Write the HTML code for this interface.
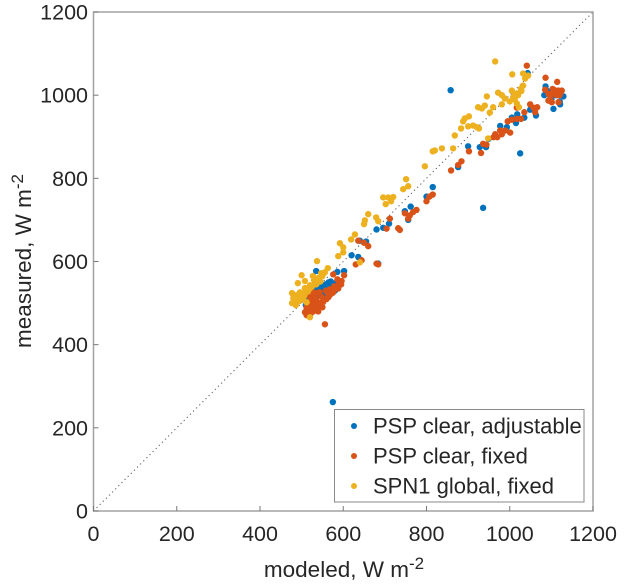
<!DOCTYPE html>
<html lang="en">
<head>
<meta charset="utf-8">
<title>Measured vs modeled irradiance</title>
<style>
html,body{margin:0;padding:0;background:#fff;width:624px;height:587px;overflow:hidden}
svg{display:block}
text{font-family:"Liberation Sans",sans-serif;fill:#262626}
</style>
</head>
<body>
<svg id="chart" width="624" height="587" viewBox="0 0 624 587" xmlns="http://www.w3.org/2000/svg"></svg>
<script>
const xTicks = [0, 200, 400, 600, 800, 1000, 1200];
const yTicks = [0, 200, 400, 600, 800, 1000, 1200];
const seriesNames = ["PSP clear, adjustable", "PSP clear, fixed", "SPN1 global, fixed"];
const seriesColors = ["#0072bd", "#d95319", "#edb120"];

const blueX = [575,858,936,1025,900,1043,1086,1083,1129,1105,1121,1063,1049,1035,1018,1005,1015,977,993,949,1095,1110,1100,1090,1120,815,876,800,762,748,756,696,710,943,928,680,684,640,636,655,620,535,586,602,576,560,552,572,512,525,528,540,520,532,566,586,515,545,555,510,530,518,580,590,545,550,558,565,570,535,525,540,548];
const blueY = [262,1012,729,860,877,1053,1021,1000,997,967,978,951,965,946,954,946,933,926,923,895,987,1000,990,1010,985,779,827,756,732,721,700,681,691,875,875,677,595,650,611,648,615,577,575,577,547,539,535,539,511,530,520,500,490,540,540,553,480,525,515,495,505,500,530,545,535,542,545,550,552,515,510,530,522];

const redX = [1041,1086,1114,1085,1093,1105,1117,1125,1121,1113,1093,1101,1117,1113,1108,1098,1120,1103,1049,1057,1066,1061,1035,1027,1017,1005,995,1017,977,989,1001,965,981,970,961,931,936,944,902,859,884,876,815,807,800,776,768,748,760,756,712,704,732,736,684,680,660,644,630,636,650,556,576,602,596,586,528,543,512,512,520,532,544,552,564,576,588,516,524,520,535,540,550,560,570,580,508,515,522,528,536,545,555,565,575,585,595,515,525,535,548,558,568,578,590,512,520,530,540];
const redY = [1071,1042,1032,1013,1003,1007,1011,1011,1003,1000,987,983,983,1007,1012,996,1000,1015,978,970,971,959,959,943,943,941,937,970,915,915,910,906,906,899,899,861,883,881,865,819,841,832,761,756,745,724,719,716,711,703,703,679,680,676,593,595,637,603,593,650,645,449,569,567,553,557,526,526,471,483,483,491,495,503,519,527,535,495,505,515,510,480,490,510,522,540,478,500,475,480,488,500,508,515,525,535,545,485,495,500,515,530,533,540,550,490,505,520,525];

const yellowX = [965,1006,1032,1044,1037,1032,1027,1005,1017,1008,972,981,988,945,1017,1022,981,924,933,940,960,952,902,892,888,912,900,921,926,883,948,868,837,864,815,820,796,751,756,744,696,708,720,715,702,660,652,650,679,684,628,619,592,600,600,588,537,500,491,508,527,563,556,547,540,532,520,508,496,477,488,480,477,486,507,520,503,498,512,520,640,1000,1012,525,515,495,485,505,530,1020,1012,1028,490,500,510,520,535,545,482,492,502,515,550];
const yellowY = [1081,1050,1052,1047,1040,1023,1016,1011,1004,995,1006,1000,992,997,980,971,978,971,968,975,971,958,949,944,937,927,925,923,920,920,896,903,872,872,865,867,829,798,781,774,754,754,755,745,738,714,699,690,706,697,665,653,644,634,622,613,601,567,548,553,565,584,574,572,560,550,543,536,526,524,519,512,500,495,520,535,510,522,502,466,598,985,1000,540,530,505,500,515,555,1000,990,1010,508,518,528,538,545,552,515,510,520,528,565];

const plotLeft = 93.5, plotRight = 593, plotTop = 12, plotBottom = 511;
const axisMax = 1200;
function sx(v){ return plotLeft + v / axisMax * (plotRight - plotLeft); }
function sy(v){ return plotBottom - v / axisMax * (plotBottom - plotTop); }

const svg = document.getElementById('chart');
const NS = 'http://www.w3.org/2000/svg';
function mk(tag, attrs, parent){
  const el = document.createElementNS(NS, tag);
  for (const k in attrs) el.setAttribute(k, attrs[k]);
  (parent || svg).appendChild(el);
  return el;
}

const refLine = mk('line', {x1:sx(0), y1:sy(0), x2:sx(axisMax), y2:sy(axisMax), stroke:'#666', 'stroke-width':1.1, 'stroke-dasharray':'1.2 3.2'});



function drawSeries(xs, ys, color, name){
  const g = mk('g', {fill:color});
  
  
  xs.forEach(function(x, i){
    const c = mk('circle', {cx:sx(x), cy:sy(ys[i]), r:3.2}, g);
    
    
  });
}
drawSeries(blueX, blueY, seriesColors[0], 'series-psp-clear-adjustable');
drawSeries(redX, redY, seriesColors[1], 'series-psp-clear-fixed');
drawSeries(yellowX, yellowY, seriesColors[2], 'series-spn1-global-fixed');

const frame = mk('rect', {x:plotLeft, y:plotTop, width:plotRight-plotLeft, height:plotBottom-plotTop, fill:'none', stroke:'#a2a2a2', 'stroke-width':1.5});



xTicks.forEach(function(t){
  const up = mk('line', {x1:sx(t), x2:sx(t), y1:plotBottom, y2:plotBottom-5, stroke:'#777', 'stroke-width':1});
  
  
  const lab = mk('text', {x:sx(t), y:541, 'text-anchor':'middle', 'font-size':21.5});
  
  
  lab.textContent = t;
});
yTicks.forEach(function(t){
  const tk = mk('line', {x1:plotLeft, x2:plotLeft+5, y1:sy(t), y2:sy(t), stroke:'#777', 'stroke-width':1});
  
  
  const lab = mk('text', {x:88, y:sy(t)+7.5, 'text-anchor':'end', 'font-size':21.5});
  
  
  lab.textContent = t;
});

const xTitle = mk('text', {x:344, y:577, 'text-anchor':'middle', 'font-size':22.5});


xTitle.innerHTML = 'modeled, W m<tspan dy="-8" font-size="17">-2</tspan>';

const yTitle = mk('text', {transform:'translate(31,261) rotate(-90)', 'text-anchor':'middle', 'font-size':22.5});


yTitle.innerHTML = 'measured, W m<tspan dy="-8" font-size="17">-2</tspan>';

const legend = mk('g', {});


const legendBox = mk('rect', {x:334.5, y:409.5, width:249.5, height:92.5, fill:'#fff', stroke:'#8a8a8a', 'stroke-width':1}, legend);


seriesNames.forEach(function(name, i){
  const rowY = 426 + i * 30;
  const m = mk('circle', {cx:354, cy:rowY, r:3, fill:seriesColors[i]}, legend);
  
  
  const t = mk('text', {x:373, y:rowY+7.5, 'font-size':22}, legend);
  
  
  t.textContent = name;
});
</script>
</body>
</html>
